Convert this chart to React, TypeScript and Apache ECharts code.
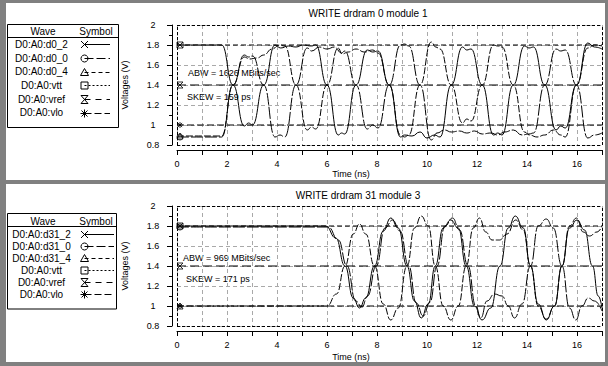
import React, { useEffect, useRef } from 'react';
import * as echarts from 'echarts';

// ---------------- data ----------------
const TOP_TITLE = 'WRITE drdram 0 module 1';
const BOT_TITLE = 'WRITE drdram 31 module 3';
const TOP_ABW = 'ABW = 1626 MBits/sec';
const TOP_SKEW = 'SKEW = 159 ps';
const BOT_ABW = 'ABW = 969 MBits/sec';
const BOT_SKEW = 'SKEW = 171 ps';
const X_NAME = 'Time (ns)';
const Y_NAME = 'Voltages (V)';
const X_MIN = 0;
const X_MAX = 17;
const Y_MIN = 0.8;
const Y_MAX = 2;
const TOP_WAVES = ['D0:A0:d0_2', 'D0:A0:d0_0', 'D0:A0:d0_4', 'D0:A0:vtt', 'D0:A0:vref', 'D0:A0:vlo'];
const BOT_WAVES = ['D0:A0:d31_2', 'D0:A0:d31_0', 'D0:A0:d31_4', 'D0:A0:vtt', 'D0:A0:vref', 'D0:A0:vlo'];

const topD0_2 = [[0,1.8],[1.79,1.8],[2.24,1.4],[2.69,0.99],[2.86,1.02],[3.02,1.0],[3.47,1.4],[3.92,1.8],[4.15,1.77],[4.45,1.79],[4.76,1.78],[5.05,1.8],[5.38,1.79],[5.55,1.8],[6.0,1.4],[6.45,0.9],[6.58,0.92],[6.71,0.91],[7.16,1.4],[7.61,1.75],[7.83,1.73],[8.04,1.74],[8.49,1.4],[8.94,0.88],[9.1,0.9],[9.4,0.89],[9.72,0.93],[10.0,0.87],[10.3,0.9],[10.52,0.88],[10.97,1.4],[11.42,1.78],[11.59,1.75],[11.76,1.76],[12.21,1.4],[12.66,0.9],[12.83,0.92],[13.0,0.9],[13.45,1.4],[13.9,1.79],[14.08,1.77],[14.26,1.78],[14.71,1.4],[15.16,0.95],[15.35,0.99],[15.53,0.97],[15.98,1.4],[16.43,1.82],[16.7,1.78],[17,1.76]];
const topD0_0 = [[0,0.88],[1.79,0.88],[2.24,1.4],[2.69,1.7],[2.86,1.68],[3.02,1.69],[3.47,1.4],[3.92,0.88],[4.12,0.9],[4.31,0.88],[4.76,1.4],[5.21,1.77],[5.38,1.74],[5.7,1.78],[6.0,1.76],[6.3,1.78],[6.58,1.72],[6.71,1.74],[7.16,1.4],[7.61,0.96],[7.83,1.0],[8.04,0.97],[8.49,1.4],[8.94,1.8],[9.1,1.81],[9.27,1.79],[9.72,1.4],[10.17,0.85],[10.4,0.92],[10.7,0.95],[10.97,0.93],[11.3,0.94],[11.59,0.92],[11.9,0.94],[12.21,0.91],[12.56,0.92],[12.83,0.9],[13.1,0.93],[13.45,0.95],[13.8,0.9],[14.08,0.91],[14.26,0.92],[14.71,1.4],[15.16,1.76],[15.35,1.74],[15.53,1.75],[15.98,1.4],[16.43,0.87],[16.7,0.9],[17,0.92]];
const topD0_4 = [[0,0.89],[1.79,0.89],[2.24,1.4],[2.69,1.68],[2.9,1.66],[3.2,1.67],[3.47,1.7],[3.8,1.76],[4.1,1.8],[4.31,1.79],[4.76,1.4],[5.21,0.95],[5.38,0.98],[5.55,0.96],[6.0,1.4],[6.45,1.77],[6.6,1.71],[6.85,1.73],[7.16,1.76],[7.5,1.73],[7.83,1.75],[8.04,1.72],[8.49,1.4],[8.94,0.9],[9.1,0.88],[9.27,0.9],[9.72,1.4],[10.17,1.83],[10.35,1.78],[10.52,1.76],[10.97,1.4],[11.42,1.02],[11.59,1.06],[11.76,1.04],[12.21,1.4],[12.66,1.8],[12.83,1.79],[13.0,1.78],[13.45,1.4],[13.9,0.93],[14.1,0.9],[14.4,0.88],[14.71,0.9],[15.06,0.95],[15.35,0.9],[15.53,0.88],[15.98,1.4],[16.43,1.77],[16.7,1.8],[17,1.79]];
const topVtt = [[0,1.8],[17,1.8]];
const topVref = [[0,1.4],[17,1.4]];
const topVlo = [[0,1.0],[17,1.0]];

const botD31_2 = [[0,1.8],[5.95,1.8],[6.35,1.68],[6.72,1.4],[7.05,1.08],[7.3,0.98],[7.55,1.08],[7.9,1.4],[8.25,1.75],[8.55,1.88],[8.85,1.78],[9.2,1.4],[9.5,1.05],[9.77,0.88],[10.05,1.02],[10.33,1.4],[10.65,1.78],[10.95,1.86],[11.25,1.78],[11.57,1.4],[11.9,1.0],[12.2,0.86],[12.55,0.98],[12.92,1.4],[13.25,1.78],[13.53,1.9],[13.85,1.78],[14.14,1.4],[14.45,1.02],[14.77,0.86],[15.1,1.0],[15.4,1.4],[15.7,1.78],[16.0,1.86],[16.3,1.76],[16.62,1.4],[16.85,1.1],[17,0.98]];
const botD31_0 = [[0,1.79],[6.05,1.79],[6.45,1.66],[6.8,1.4],[7.15,1.05],[7.4,0.99],[7.62,1.1],[7.97,1.4],[8.32,1.78],[8.62,1.86],[8.92,1.75],[9.27,1.4],[9.57,1.03],[9.85,0.9],[10.12,1.04],[10.4,1.4],[10.72,1.8],[11.02,1.88],[11.3,1.76],[11.64,1.4],[11.95,1.0],[12.15,0.88],[12.4,1.05],[12.7,1.12],[13.0,1.1],[13.25,1.0],[13.5,0.88],[13.8,1.02],[14.14,1.4],[14.45,1.8],[14.77,1.87],[15.05,1.78],[15.4,1.4],[15.7,0.98],[15.95,0.86],[16.2,1.0],[16.45,1.08],[16.7,1.05],[17,0.95]];
const botD31_4 = [[0,1.0],[6.0,1.0],[6.38,1.12],[6.72,1.4],[7.05,1.72],[7.3,1.82],[7.55,1.72],[7.9,1.4],[8.25,1.02],[8.55,0.86],[8.85,0.98],[9.2,1.4],[9.5,1.78],[9.77,1.9],[10.05,1.8],[10.33,1.4],[10.65,1.0],[10.95,0.86],[11.25,1.0],[11.57,1.4],[11.85,1.78],[12.1,1.88],[12.35,1.74],[12.6,1.66],[12.9,1.66],[13.2,1.72],[13.55,1.86],[13.85,1.76],[14.14,1.4],[14.45,1.0],[14.77,0.87],[15.1,1.0],[15.4,1.4],[15.7,1.8],[15.98,1.88],[16.25,1.74],[16.5,1.7],[16.8,1.74],[17,1.8]];
const botVtt = [[0,1.8],[17,1.8]];
const botVref = [[0,1.4],[17,1.4]];
const botVlo = [[0,1.0],[17,1.0]];

// ---------------- styles ----------------
const FONT = '"Liberation Sans", Arial, sans-serif';
const GRID_GRAY = '#a9a9a9';
const SYM_KINDS = ['x', 'circle', 'triangle', 'square', 'hourglass', 'asterisk'];
const SERIES_SYMBOL: Record<string, string> = {
  x: 'path://M0,0L10,10M10,0L0,10',
  circle: 'circle',
  triangle: 'triangle',
  square: 'rect',
  hourglass: 'path://M0,0L10,0L0,10L10,10Z',
  asterisk: 'path://M5,0L5,10M0,5L10,5M1.5,1.5L8.5,8.5M8.5,1.5L1.5,8.5',
};
const DASHES: any[] = ['solid', [12, 2], [7, 2], [5, 3], [9, 4], [7, 3]];
const LEGEND_DASHES: any[] = [null, [9, 3], [4, 3], [2, 2], [6, 5], [7, 3]];

function text(t: string, x: number, y: number, size: number, extra: any = {}) {
  return {
    type: 'text', x, y, silent: true, ...extra,
    style: {
      text: t, fill: '#000', font: `${size}px ${FONT}`,
      align: extra.align || 'center', verticalAlign: 'middle',
      textAlign: extra.align || 'center', textVerticalAlign: 'middle',
    },
  };
}

function seg(x1: number, y1: number, x2: number, y2: number, dash: any = null) {
  return { type: 'line', silent: true, shape: { x1, y1, x2, y2 }, style: { stroke: '#000', lineWidth: 1, lineDash: dash } };
}

function legendSymbol(kind: string, cx: number, cy: number): any[] {
  const r = 3.5;
  const st = { stroke: '#000', fill: 'none', lineWidth: 1 };
  switch (kind) {
    case 'x':
      return [seg(cx - r, cy - r, cx + r, cy + r), seg(cx + r, cy - r, cx - r, cy + r)];
    case 'circle':
      return [{ type: 'circle', silent: true, shape: { cx, cy, r }, style: st }];
    case 'triangle':
      return [{ type: 'polygon', silent: true, shape: { points: [[cx, cy - 4], [cx + 4, cy + 3], [cx - 4, cy + 3]] }, style: st }];
    case 'square':
      return [{ type: 'rect', silent: true, shape: { x: cx - r, y: cy - r, width: 7, height: 7 }, style: st }];
    case 'hourglass':
      return [{ type: 'polygon', silent: true, shape: { points: [[cx - r, cy - 4], [cx + r, cy - 4], [cx - r, cy + 4], [cx + r, cy + 4]] }, style: st }];
    default:
      return [seg(cx, cy - 4, cx, cy + 4), seg(cx - 4, cy, cx + 4, cy), seg(cx - 3, cy - 3, cx + 3, cy + 3), seg(cx + 3, cy - 3, cx - 3, cy + 3)];
  }
}

function legendTable(waves: string[], box: any): any[] {
  const els: any[] = [];
  els.push({ type: 'rect', silent: true, shape: { x: box.x, y: box.y, width: box.w, height: box.h }, style: { fill: '#fff', stroke: '#000', lineWidth: 1 } });
  els.push(text('Wave', 43, box.headY, 10));
  els.push(text('Symbol', 96, box.headY, 10));
  els.push(seg(box.x, box.lineY, box.x + box.w, box.lineY));
  waves.forEach((w, i) => {
    const y = box.rowY0 + i * box.rowStep;
    els.push(text(w, 41.5, y, 10));
    const cx = 84.5;
    els.push(seg(cx, Math.round(y) + 0.5, box.lineEnd, Math.round(y) + 0.5, LEGEND_DASHES[i]));
    els.push(...legendSymbol(SYM_KINDS[i], cx, Math.round(y) + 0.5));
  });
  return els;
}

function axes(gi: number) {
  const x = {
    type: 'value', gridIndex: gi, min: X_MIN, max: X_MAX, interval: 1, offset: 5,
    axisLine: { show: true, onZero: false, lineStyle: { color: '#000', width: 1 } },
    axisTick: { show: true, length: 5, lineStyle: { color: '#000' } },
    axisLabel: { formatter: (v: number) => (v % 2 === 0 ? String(v) : ''), margin: 9, color: '#000', fontSize: 9, fontFamily: FONT },
    splitLine: { show: true, lineStyle: { color: GRID_GRAY, type: [4, 3], width: 1 } },
  };
  const y = {
    type: 'value', gridIndex: gi, min: Y_MIN, max: Y_MAX, interval: 0.2, offset: 5,
    axisLine: { show: true, onZero: false, lineStyle: { color: '#000', width: 1 } },
    axisTick: { show: true, length: 5, lineStyle: { color: '#000' } },
    minorTick: { show: true, splitNumber: 2, length: 3, lineStyle: { color: '#000' } },
    axisLabel: { align: 'center', margin: 19, color: '#000', fontSize: 9, fontFamily: FONT },
    splitLine: { show: true, lineStyle: { color: GRID_GRAY, type: [4, 3], width: 1 } },
  };
  return { x, y };
}

function panelSeries(gi: number, waves: number[][][], names: string[]) {
  const series: any[] = waves.map((d, i) => ({
    type: 'line', name: names[i], xAxisIndex: gi, yAxisIndex: gi, data: d,
    symbol: 'none', showSymbol: false, smooth: i < 3 ? 0.5 : false, smoothMonotone: 'x',
    lineStyle: { color: '#000', width: 1, type: DASHES[i] },
    z: 3,
    silent: true,
  }));
  series[4].markLine = {
    silent: true, symbol: ['none', 'none'], label: { show: false },
    lineStyle: { color: '#000', type: [3, 2], width: 1 },
    data: [{ xAxis: X_MIN }, { xAxis: X_MAX }, { yAxis: Y_MIN }, { yAxis: Y_MAX }],
  };
  series.push({
    type: 'scatter', xAxisIndex: gi, yAxisIndex: gi, symbolSize: 6, symbolOffset: [3, 0],
    itemStyle: { color: 'rgba(0,0,0,0)', borderColor: '#000', borderWidth: 1 },
    data: waves.map((d, i) => ({ value: d[0], symbol: SERIES_SYMBOL[SYM_KINDS[i]] })),
    z: 4, silent: true,
  });
  return series;
}

function buildOption() {
  const a0 = axes(0);
  const a1 = axes(1);
  const graphic: any[] = [
    { type: 'rect', z: -10, silent: true, shape: { x: 6, y: 3, width: 599, height: 177 }, style: { fill: '#fff' } },
    { type: 'rect', z: -10, silent: true, shape: { x: 6, y: 184, width: 599, height: 178 }, style: { fill: '#fff' } },
    ...legendTable(TOP_WAVES, { x: 7.5, y: 24.5, w: 111, h: 103, headY: 31.5, lineY: 37.5, rowY0: 44.3, rowStep: 13.7, lineEnd: 110 }),
    ...legendTable(BOT_WAVES, { x: 7.5, y: 213.5, w: 109, h: 95.5, headY: 221.5, lineY: 226.5, rowY0: 234, rowStep: 12, lineEnd: 114 }),
    text(TOP_TITLE, 368, 13, 10),
    text(BOT_TITLE, 358, 195, 10),
    text(X_NAME, 351, 174, 9),
    text(X_NAME, 351, 357, 9),
    text(Y_NAME, 125, 85, 9, { rotation: Math.PI / 2 }),
    text(Y_NAME, 125, 266, 9, { rotation: Math.PI / 2 }),
    text(TOP_ABW, 188, 73, 9, { align: 'left' }),
    text(TOP_SKEW, 187, 97, 9, { align: 'left' }),
    text(BOT_ABW, 183, 258, 9, { align: 'left' }),
    text(BOT_SKEW, 186, 279, 9, { align: 'left' }),
  ];
  return {
    animation: false,
    backgroundColor: '#808080',
    grid: [
      { left: 177, top: 25, width: 425, height: 120, containLabel: false },
      { left: 177, top: 206, width: 425, height: 120, containLabel: false },
    ],
    xAxis: [a0.x, a1.x],
    yAxis: [a0.y, a1.y],
    series: [
      ...panelSeries(0, [topD0_2, topD0_0, topD0_4, topVtt, topVref, topVlo], TOP_WAVES),
      ...panelSeries(1, [botD31_2, botD31_0, botD31_4, botVtt, botVref, botVlo], BOT_WAVES),
    ],
    graphic,
  };
}

export default function App() {
  const ref = useRef<HTMLDivElement>(null);
  useEffect(() => {
    const chart = echarts.init(ref.current!, null, { renderer: 'svg' });
    chart.setOption(buildOption() as any);
    return () => chart.dispose();
  }, []);
  return <div ref={ref} style={{ position: 'fixed', left: 0, top: 0, width: 608, height: 366 }} />;
}
